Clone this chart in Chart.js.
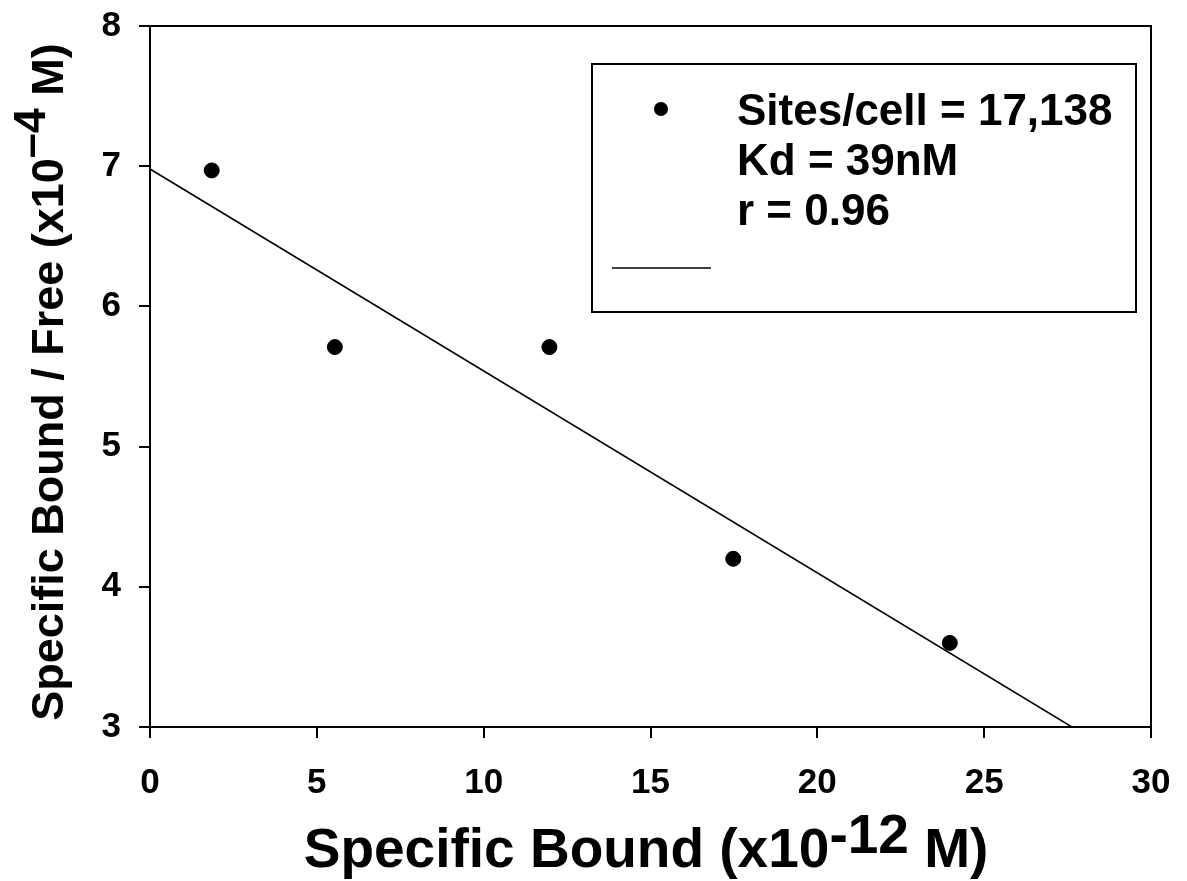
<!DOCTYPE html>
<html>
<head>
<meta charset="utf-8">
<script src="https://cdn.jsdelivr.net/npm/chart.js@4"></script>
<style>
    html, body { margin: 0; padding: 0; background: #fff; overflow: hidden; }
    #chart { display: block; }
</style>
</head>
<body>
<canvas id="chart" width="1187" height="881"></canvas>
<script>
const boundX = [1.85, 5.54, 11.97, 17.48, 23.97]
const ratioY = [6.97, 5.71, 5.71, 4.20, 3.60]
const fitX = [0, 27.63]
const fitY = [6.98, 3.0]
const legendLines = ['Sites/cell = 17,138', 'Kd = 39nM', 'r = 0.96']
const xTitle = ['Specific Bound (x10', '-12', ' M)']
const yTitle = ['Specific Bound / Free (x10', '\u20134', ' M)']

const fontFamily = '"Liberation Sans", Arial, sans-serif'

const points = boundX.map((x, i) => ({ x: x, y: ratioY[i] }))
const fit = fitX.map((x, i) => ({ x: x, y: fitY[i] }))

// draws text pieces in a row, the middle one raised like a superscript
const drawParts = (ctx, parts, x, y, raise) => {
    let cx = x
    parts.forEach((p, i) => {
        ctx.fillText(p, cx, i === 1 ? y - raise : y)
        cx += ctx.measureText(p).width
    })
}
const partsWidth = (ctx, parts) => parts.reduce((s, p) => s + ctx.measureText(p).width, 0)

const extras = {
    id: 'extras',
    afterDraw: (chart) => {
        const ctx = chart.ctx
        const a = chart.chartArea
        ctx.save()
        ctx.strokeStyle = '#000'
        ctx.lineWidth = 2
        ctx.beginPath()
        ctx.moveTo(a.left, a.top)
        ctx.lineTo(a.right, a.top)
        ctx.lineTo(a.right, a.bottom)
        ctx.stroke()

        // legend box
        ctx.lineWidth = 2
        ctx.strokeRect(592, 64, 544, 248)
        ctx.fillStyle = '#000'
        ctx.beginPath()
        ctx.arc(661, 109, 7, 0, Math.PI * 2)
        ctx.fill()
        ctx.lineWidth = 1.5
        ctx.beginPath()
        ctx.moveTo(612, 268)
        ctx.lineTo(711, 268)
        ctx.stroke()
        ctx.font = 'bold 44px ' + fontFamily
        ctx.textBaseline = 'alphabetic'
        ctx.textAlign = 'left'
        legendLines.forEach((t, i) => ctx.fillText(t, 737, 125 + i * 50))

        // x title
        ctx.font = 'bold 55px ' + fontFamily
        const xw = partsWidth(ctx, xTitle)
        drawParts(ctx, xTitle, 646 - xw / 2, 867, 14)

        // y title
        ctx.font = 'bold 45px ' + fontFamily
        const yw = partsWidth(ctx, yTitle)
        ctx.translate(63, 382)
        ctx.rotate(-Math.PI / 2)
        drawParts(ctx, yTitle, -yw / 2, 0, 18)
        ctx.restore()
    }
}

new Chart(document.getElementById('chart'), {
    type: 'scatter',
    data: {
        datasets: [{
            data: points,
            backgroundColor: '#000',
            borderColor: '#000',
            pointRadius: 7.5,
            pointHoverRadius: 7.5,
        }, {
            data: fit,
            showLine: true,
            borderColor: '#000',
            borderWidth: 1.5,
            pointRadius: 0,
            pointHoverRadius: 0,
        }]
    },
    options: {
        responsive: false,
        animation: false,
        layout: { padding: { top: 26, right: 36, left: 0, bottom: 0 } },
        scales: {
            x: {
                min: 0,
                max: 30,
                ticks: { stepSize: 5, color: '#000', padding: 24, maxRotation: 0,
                    font: { family: fontFamily, size: 35, weight: 'bold' } },
                grid: { drawOnChartArea: false, tickLength: 11, color: '#000', lineWidth: 2 },
                border: { color: '#000', width: 2 },
                afterFit: (scale) => {
                    scale.height = 154
                    scale.paddingLeft = 0
                    scale.paddingRight = 0
                },
            },
            y: {
                min: 3,
                max: 8,
                ticks: { stepSize: 1, color: '#000', padding: 18,
                    font: { family: fontFamily, size: 35, weight: 'bold' } },
                grid: { drawOnChartArea: false, tickLength: 11, color: '#000', lineWidth: 2 },
                border: { color: '#000', width: 2 },
                afterFit: (scale) => {
                    scale.width = 150
                    scale.paddingTop = 0
                    scale.paddingBottom = 0
                },
            }
        },
        plugins: {
            legend: { display: false },
            tooltip: { enabled: false },
        }
    },
    plugins: [extras]
})
</script>
</body>
</html>
